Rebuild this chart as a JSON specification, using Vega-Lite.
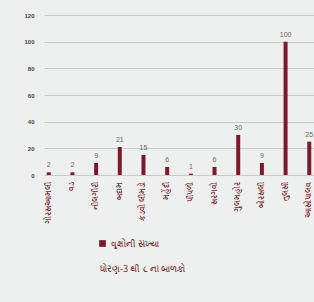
{
  "$schema": "https://vega.github.io/schema/vega-lite/v6.json",
  "width": 270,
  "height": 160,
  "autosize": {"type": "none"},
  "padding": {"left": 44, "top": 15, "right": 0, "bottom": 127},
  "background": "#eef0ef",
  "data": {"values": [
    {"tree": "ગોરસઆમલી", "count": 2},
    {"tree": "વડ", "count": 2},
    {"tree": "નીલગીરી", "count": 9},
    {"tree": "બદામ", "count": 21},
    {"tree": "કડવો લીમડો", "count": 15},
    {"tree": "મહેંદી", "count": 6},
    {"tree": "પીપળો", "count": 1},
    {"tree": "સરગવો", "count": 6},
    {"tree": "ગુલમહોર", "count": 30},
    {"tree": "બોરસલી", "count": 9},
    {"tree": "તુલસી", "count": 100},
    {"tree": "આસોપાલવ", "count": 25}
  ]},
  "encoding": {
    "x": {"field": "tree", "type": "nominal", "sort": null,
      "scale": {"paddingInner": 0.8, "paddingOuter": 0.1},
      "axis": {"title": null, "labelAngle": -90, "labelFontSize": 8, "labelColor": "#7a1f33", "labelFont": "Noto Sans", "domain": false, "ticks": false, "labelPadding": 6}},
    "y": {"field": "count", "type": "quantitative",
      "scale": {"domain": [0, 120]},
      "axis": {"title": null, "values": [0, 20, 40, 60, 80, 100, 120], "domain": false, "ticks": false, "labelFontSize": 6, "labelFontWeight": "bold", "labelColor": "#444", "labelPadding": 10, "gridColor": "#c8cac8", "gridWidth": 1}}
  },
  "layer": [
    {"mark": {"type": "bar", "size": 4, "color": "#7a1a2c"},
     "encoding": {"color": {"datum": "વૃક્ષોની સંખ્યા", "type": "nominal",
        "scale": {"range": ["#7a1a2c"]},
        "legend": {"title": null, "orient": "none", "legendX": 54, "legendY": 224, "symbolType": "square", "symbolSize": 45, "labelFontSize": 9, "labelColor": "#7a1f33", "labelFont": "Noto Sans"}}}},
    {"mark": {"type": "text", "dy": -7, "fontSize": 7, "color": "#666"},
     "encoding": {"text": {"field": "count"}}}
  ],
  "title": {"text": "ધોરણ-3 થી ૮ નાં બાળકો", "orient": "bottom", "fontSize": 9, "font": "Noto Sans", "fontWeight": "normal", "color": "#7a1f33", "anchor": "start", "offset": 16, "dx": 76},
  "config": {"view": {"stroke": null}}
}
